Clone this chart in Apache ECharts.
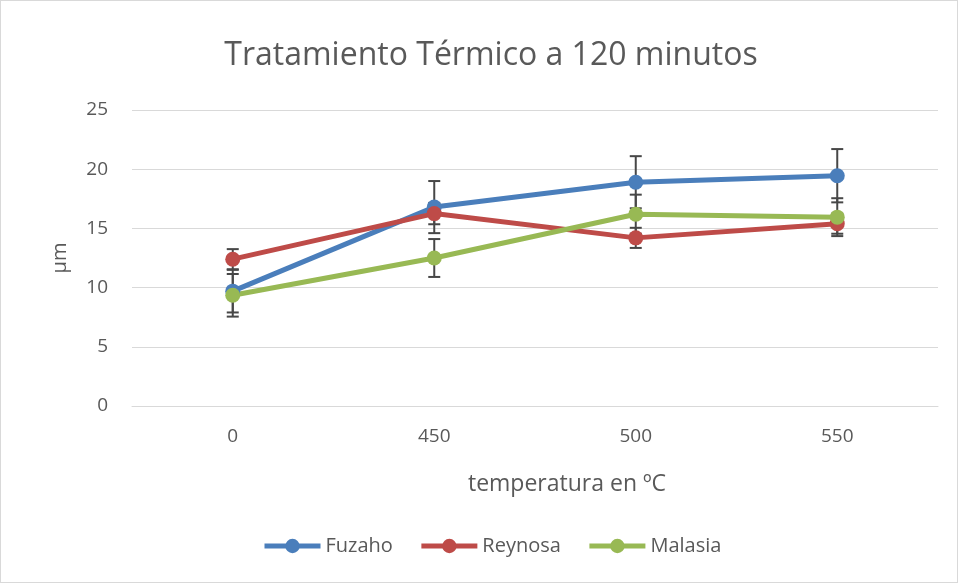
<!DOCTYPE html>
<html>
<head>
<meta charset="utf-8">
<script src="https://cdn.jsdelivr.net/npm/echarts@6/dist/echarts.min.js"></script>
<style>
  html, body { margin: 0; padding: 0; background: #fff; }
  #chart { width: 958px; height: 583px; box-sizing: border-box; border: 1px solid #d9d9d9; }
</style>
</head>
<body>
<div id="chart"></div>
<script>
// Temperatures (ºC) on the x axis
const categories = ['0', '450', '500', '550'];

// Mean size (µm) per sample
const fuzaho  = [9.7, 16.8, 18.9, 19.45];
const reynosa = [12.4, 16.25, 14.2, 15.4];
const malasia = [9.35, 12.5, 16.2, 15.95];

// Standard deviation (±) for each point
const fuzahoErr  = [1.8, 2.2, 2.2, 2.25];
const reynosaErr = [0.85, 0.9, 0.85, 0.85];
const malasiaErr = [1.8, 1.6, 1.65, 1.6];

const seriesNames = ['Fuzaho', 'Reynosa', 'Malasia'];
const colors = ['#4a7ebb', '#be4b48', '#98b954'];

const FONT = 'Open Sans';
const TEXT = '#595959';

function errorData(values, errs) {
  return values.map((v, i) => [i, v - errs[i], v + errs[i]]);
}

function errorSeries(name, values, errs) {
  return {
    type: 'custom',
    name: name + ' error',
    z: 1,
    silent: true,
    encode: { x: 0, y: [1, 2] },
    data: errorData(values, errs),
    renderItem: function (params, api) {
      const i = api.value(0);
      const lo = api.coord([i, api.value(1)]);
      const hi = api.coord([i, api.value(2)]);
      const half = 6;
      const style = { stroke: '#474747', lineWidth: 2 };
      return {
        type: 'group',
        children: [
          { type: 'line', shape: { x1: lo[0], y1: lo[1], x2: hi[0], y2: hi[1] }, style: style },
          { type: 'line', shape: { x1: lo[0] - half, y1: lo[1], x2: lo[0] + half, y2: lo[1] }, style: style },
          { type: 'line', shape: { x1: hi[0] - half, y1: hi[1], x2: hi[0] + half, y2: hi[1] }, style: style }
        ]
      };
    }
  };
}

function lineSeries(name, values, color) {
  return {
    type: 'line',
    name: name,
    data: values,
    z: 3,
    symbol: 'circle',
    symbolSize: 15,
    lineStyle: { width: 5, color: color },
    itemStyle: { color: color },
    emphasis: { disabled: true }
  };
}

const chart = echarts.init(document.getElementById('chart'), null, { renderer: 'canvas' });

chart.setOption({
  animation: false,
  color: colors,
  textStyle: { fontFamily: FONT },
  grid: { left: 131, right: 19, top: 109, bottom: 176, containLabel: false },
  graphic: [
    {
      type: 'text', x: 490, y: 55,
      style: {
        text: 'Tratamiento Térmico a 120 minutos',
        fill: TEXT, font: '400 32px "' + FONT + '"',
        textAlign: 'center', textVerticalAlign: 'middle'
      }
    },
    {
      type: 'text', x: 566, y: 483,
      style: {
        text: 'temperatura en ºC',
        fill: TEXT, font: '400 23px "' + FONT + '"',
        textAlign: 'center', textVerticalAlign: 'middle'
      }
    }
  ],
  legend: {
    data: seriesNames,
    bottom: 21,
    left: 256,
    itemWidth: 56,
    itemHeight: 18,
    itemGap: 26,
    lineStyle: { width: 5 },
    itemStyle: { borderWidth: 0 },
    textStyle: { color: TEXT, fontSize: 20, fontFamily: FONT }
  },
  xAxis: {
    type: 'category',
    data: categories,
    boundaryGap: true,
    axisLine: { lineStyle: { color: '#d9d9d9', width: 1 } },
    axisTick: { show: false },
    axisLabel: { color: TEXT, fontSize: 19, margin: 21, fontFamily: FONT }
  },
  yAxis: {
    type: 'value',
    min: 0,
    max: 25,
    interval: 5,
    name: 'µm',
    nameLocation: 'middle',
    nameGap: 62,
    nameRotate: 90,
    nameTextStyle: { color: TEXT, fontSize: 20, fontFamily: FONT },
    axisLine: { show: false },
    axisTick: { show: false },
    splitLine: { lineStyle: { color: '#d9d9d9', width: 1 } },
    axisLabel: { color: TEXT, fontSize: 19, margin: 24, fontFamily: FONT }
  },
  series: [
    errorSeries(seriesNames[0], fuzaho, fuzahoErr),
    errorSeries(seriesNames[1], reynosa, reynosaErr),
    errorSeries(seriesNames[2], malasia, malasiaErr),
    lineSeries(seriesNames[0], fuzaho, colors[0]),
    lineSeries(seriesNames[1], reynosa, colors[1]),
    lineSeries(seriesNames[2], malasia, colors[2])
  ]
});
</script>
</body>
</html>
